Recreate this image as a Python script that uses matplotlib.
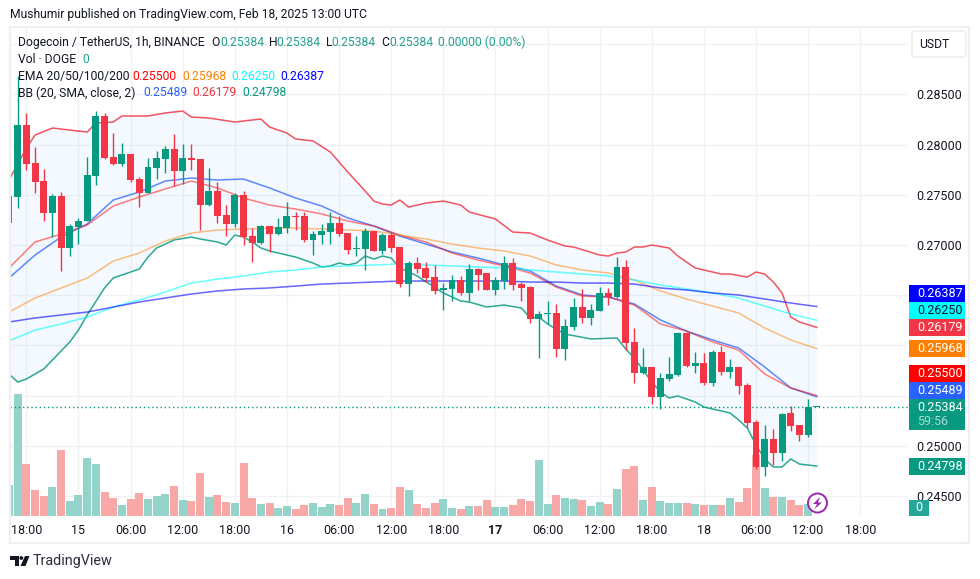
import numpy as np
import matplotlib
matplotlib.use("Agg")
import matplotlib.pyplot as plt
from matplotlib.patches import Rectangle, FancyBboxPatch, Circle, Polygon

plt.rcParams['font.family'] = ['Roboto', 'DejaVu Sans']

opens = [27219, 27478, 28195, 27817, 27637, 27319, 27488, 26970, 27179, 27239, 27687, 28285, 27876, 27807, 27906, 27657,
         27518, 27767, 27856, 27956, 27737, 27866, 27856, 27398, 27538, 27299, 27209, 27498, 27089, 27020, 27189, 27109,
         27169, 27289, 27289, 27050, 27099, 27129, 27219, 27119, 26960, 26960, 27139, 26940, 27099, 26980, 26611, 26820,
         26771, 26681, 26552, 26562, 26651, 26522, 26761, 26721, 26552, 26641, 26820, 26611, 26581, 26263, 26313, 26323,
         25964, 26183, 26382, 26273, 26342, 26522, 26482, 26781, 26034, 25725, 25785, 25486, 25665, 25705, 26123, 25795,
         25824, 25625, 25934, 25735, 25785, 25605, 25237, 24789, 25068, 24928, 25327, 25207, 25107, 25384]
highs = [27488, 28683, 28315, 27976, 27757, 27508, 27528, 27209, 27269, 27876, 28334, 28315, 28115, 28016, 27906, 27677,
         27866, 27936, 27986, 28105, 28006, 28006, 27856, 27767, 27627, 27398, 27518, 27538, 27169, 27199, 27189, 27269,
         27428, 27328, 27328, 27139, 27209, 27328, 27289, 27119, 27089, 27169, 27139, 27119, 27119, 26980, 26840, 26880,
         26830, 26801, 26621, 26701, 26691, 26810, 26771, 26721, 26681, 26890, 26870, 26631, 26591, 26342, 26442, 26412,
         26263, 26472, 26562, 26412, 26581, 26572, 26880, 26850, 26173, 25974, 25785, 25725, 25884, 26133, 26133, 25934,
         25924, 25954, 25994, 25864, 25785, 25625, 25257, 25207, 25167, 25327, 25396, 25207, 25466, 25384]
lows = [27219, 27368, 27747, 27518, 27239, 27079, 26741, 26890, 27010, 27239, 27597, 27856, 27797, 27787, 27627, 27378,
        27518, 27657, 27717, 27587, 27607, 27747, 27149, 27388, 27219, 27089, 27179, 27000, 26830, 27010, 26930, 27099,
        27119, 27149, 27030, 26900, 27010, 27010, 27089, 26910, 26890, 26751, 26940, 26910, 26930, 26581, 26492, 26721,
        26631, 26512, 26352, 26442, 26502, 26442, 26552, 26552, 26502, 26562, 26552, 26442, 26223, 25874, 26213, 25884,
        25854, 26153, 26223, 26203, 26342, 26402, 26472, 25954, 25625, 25715, 25416, 25366, 25645, 25695, 25785, 25725,
        25605, 25595, 25705, 25675, 25516, 25177, 24769, 24699, 24809, 24848, 25147, 25048, 25087, 25384]
closes = [27488, 28195, 27807, 27627, 27319, 27488, 26970, 27189, 27239, 27697, 28285, 27866, 27807, 27906, 27647, 27518,
          27777, 27866, 27956, 27737, 27866, 27846, 27398, 27538, 27289, 27209, 27498, 27079, 27020, 27189, 27109, 27179,
          27289, 27279, 27050, 27109, 27139, 27219, 27109, 26950, 26970, 27139, 26940, 27099, 26970, 26611, 26820, 26761,
          26671, 26542, 26572, 26651, 26522, 26761, 26701, 26552, 26651, 26820, 26601, 26572, 26263, 26313, 26323, 25964,
          26193, 26382, 26273, 26352, 26522, 26482, 26781, 26024, 25725, 25785, 25486, 25675, 25715, 26123, 25795, 25824,
          25625, 25934, 25735, 25785, 25595, 25227, 24789, 25068, 24928, 25317, 25197, 25107, 25384, 25384]

# Volume bars, in arbitrary units (the chart has no volume scale)
volumes = [31, 122, 52, 26, 20, 29, 66, 15, 21, 58, 52, 24, 18, 11, 17, 23, 17, 20, 22, 30, 16, 15, 43, 19,
           21, 14, 13, 53, 18, 12, 13, 8, 10, 7, 11, 13, 9, 12, 11, 18, 13, 22, 12, 7, 8, 29, 26, 12,
           8, 13, 17, 8, 7, 10, 10, 16, 9, 9, 11, 17, 15, 56, 12, 21, 18, 17, 16, 10, 14, 12, 27, 47,
           50, 16, 29, 15, 13, 13, 13, 12, 11, 11, 11, 18, 14, 28, 61, 28, 19, 19, 16, 11, 12, 0]

# Bollinger upper and lower read at the bars where the line bends
upper_bars = [0, 2, 3, 5, 7, 9, 10, 12, 13, 16, 18, 20, 21, 23, 26, 29, 30, 32, 33, 35, 37, 39, 41, 42, 43, 44, 45, 46,
              48, 50, 52, 53, 56, 58, 60, 62, 64, 65, 68, 69, 70, 71, 72, 73, 74, 76, 77, 79, 80, 82, 83, 85, 86, 87,
              88, 89, 90, 91, 93]
bb_upper = [27647, 27966, 28095, 28165, 28145, 28125, 28215, 28225, 28285, 28285, 28315, 28334, 28275, 28265, 28225,
            28255, 28175, 28115, 28056, 28036, 27926, 27727, 27538, 27438, 27408, 27398, 27448, 27378, 27418, 27438,
            27398, 27328, 27259, 27129, 27119, 27050, 26990, 26980, 26900, 26890, 26920, 26930, 26980, 26980, 27000,
            26970, 26890, 26771, 26751, 26711, 26711, 26681, 26731, 26711, 26631, 26522, 26283, 26233, 26179]
lower_bars = [0, 1, 2, 4, 6, 7, 8, 9, 11, 12, 15, 16, 17, 19, 21, 22, 24, 25, 26, 27, 28, 29, 30, 32, 33, 35, 36, 37,
              38, 39, 40, 41, 42, 43, 44, 45, 47, 50, 52, 53, 55, 57, 59, 60, 61, 62, 64, 67, 70, 71, 72, 74, 75, 76,
              77, 79, 80, 83, 84, 85, 86, 87, 88, 89, 90, 91, 93]
bb_lower = [25715, 25635, 25665, 25765, 25944, 26034, 26153, 26303, 26572, 26671, 26761, 26880, 26970, 27050, 27079,
            27060, 27030, 27000, 27099, 27079, 27030, 26970, 26940, 26900, 26880, 26820, 26781, 26791, 26820, 26801,
            26820, 26890, 26860, 26890, 26870, 26771, 26691, 26522, 26442, 26432, 26382, 26402, 26372, 26273, 26283,
            26213, 26113, 26064, 26074, 25964, 25874, 25635, 25536, 25476, 25496, 25436, 25386, 25327, 25257, 25177,
            25008, 24868, 24789, 24789, 24868, 24818, 24798]

# Other indicator values read every third bar
bb_mid = [26671, 26900, 27079, 27209, 27448, 27528, 27637, 27667, 27647, 27657, 27568, 27468, 27388, 27269, 27189, 27089,
          27010, 26930, 26870, 26801, 26741, 26591, 26502, 26482, 26412, 26253, 26143, 26054, 25974, 25785, 25576, 25489]
ema20 = [26771, 27030, 27109, 27199, 27388, 27478, 27558, 27637, 27568, 27468, 27398, 27358, 27309, 27239, 27189, 27099,
         27030, 26920, 26850, 26791, 26721, 26581, 26492, 26482, 26402, 26213, 26143, 26034, 25954, 25715, 25576, 25500]
ema50 = [26332, 26472, 26572, 26671, 26840, 26920, 27040, 27119, 27149, 27159, 27169, 27169, 27159, 27149, 27139, 27099,
         27060, 27010, 26970, 26940, 26890, 26801, 26751, 26721, 26651, 26542, 26462, 26392, 26323, 26173, 26054, 25968]
ema100 = [26044, 26153, 26213, 26283, 26382, 26452, 26532, 26621, 26661, 26691, 26731, 26751, 26781, 26791, 26801, 26811,
          26801, 26791, 26781, 26771, 26751, 26731, 26711, 26691, 26651, 26601, 26562, 26522, 26472, 26392, 26313, 26250]
ema200 = [26233, 26273, 26303, 26332, 26382, 26432, 26472, 26512, 26542, 26562, 26572, 26591, 26611, 26621, 26631, 26641,
          26641, 26641, 26641, 26641, 26631, 26631, 26621, 26621, 26611, 26572, 26552, 26522, 26502, 26462, 26422, 26387]

price_ticks = [0.245, 0.25, 0.255, 0.26, 0.265, 0.27, 0.275, 0.28, 0.285, 0.29]
hidden_tick_labels = [0.255, 0.26, 0.265, 0.29]  # sit behind the badges / USDT button
time_tick_bars = list(range(2, 99, 6))
time_tick_labels = ["18:00", "15", "06:00", "12:00", "18:00", "16", "06:00", "12:00", "18:00",
                    "17", "06:00", "12:00", "18:00", "18", "06:00", "12:00", "18:00"]

# Price badges on the right: text, fill colour, text colour, centre y in pixels
badge_texts = ["0.26387", "0.26250", "0.26179", "0.25968", "0.25500", "0.25489", "0.24798"]
badge_colors = ["#0000ff", "#00ffff", "#f23645", "#ff8000", "#ff0000", "#2962ff", "#089981"]
badge_text_colors = ["white", "#131722", "white", "white", "white", "white", "white"]
badge_y = [293.3, 310.7, 327.5, 348.3, 373.3, 390.7, 466.3]

GREEN = "#089981"
RED = "#f23645"
W, H = 980, 579
# plot area in pixels
LEFT, RIGHT, TOP, BOTTOM = 10, 908, 27, 516
BAR_PX = 8.686
PRICE_PER_PX = 0.0000996

fig = plt.figure(figsize=(W / 100, H / 100), dpi=100, facecolor="white")
ax = fig.add_axes([LEFT / W, 1 - BOTTOM / H, (RIGHT - LEFT) / W, (BOTTOM - TOP) / H])

ax.set_xlim((LEFT - 9.0) / BAR_PX, (RIGHT - 9.0) / BAR_PX)
ymin = 0.245 - (BOTTOM - 496) * PRICE_PER_PX
ymax = 0.245 + (496 - TOP) * PRICE_PER_PX
ax.set_ylim(ymin, ymax)

bars = np.arange(len(closes))
o = np.array(opens) / 1e5
h = np.array(highs) / 1e5
l = np.array(lows) / 1e5
c = np.array(closes) / 1e5
colors = [GREEN if cl >= op else RED for op, cl in zip(o, c)]
vol_colors = ["#93d3ca" if x == GREEN else "#f8a9a7" for x in colors]

# Grid
ax.set_yticks(price_ticks)
ax.set_yticklabels(["" if p in hidden_tick_labels else f"{p:.5f}" for p in price_ticks])
ax.set_xticks(time_tick_bars)
ax.set_xticklabels(time_tick_labels)
ax.grid(True, color="#f0f2f5", linewidth=1)
ax.set_axisbelow(True)
ax.yaxis.tick_right()
ax.tick_params(axis="both", length=0, labelsize=9, labelcolor="#131722")
ax.tick_params(axis="y", pad=6)
ax.tick_params(axis="x", pad=6)
ax.get_xticklabels()[9].set_fontweight("bold")
for s in ax.spines.values():
    s.set_visible(False)

# Volume at the bottom of the pane, one unit = one pixel
ax.bar(bars, np.array(volumes) * PRICE_PER_PX, bottom=ymin, width=0.92, color=vol_colors, linewidth=0, zorder=1.5)

# Bollinger band
ub = np.array(bb_upper) / 1e5
lb = np.array(bb_lower) / 1e5
ax.fill(np.r_[upper_bars, lower_bars[::-1]], np.r_[ub, lb[::-1]], color="#2196f3", alpha=0.05, linewidth=0, zorder=1.6)
ind_bars = np.arange(0, 94, 3)
ax.plot(upper_bars, ub, color=RED, lw=1.1, alpha=0.85, zorder=2)
ax.plot(ind_bars, np.array(bb_mid) / 1e5, color="#2962ff", lw=1.1, alpha=0.75, zorder=2)
ax.plot(lower_bars, lb, color=GREEN, lw=1.1, alpha=0.85, zorder=2)

# EMAs
ax.plot(ind_bars, np.array(ema20) / 1e5, color="#ff0000", lw=1.1, alpha=0.5, zorder=2)
ax.plot(ind_bars, np.array(ema50) / 1e5, color="#ff8000", lw=1.1, alpha=0.5, zorder=2)
ax.plot(ind_bars, np.array(ema100) / 1e5, color="#00ffff", lw=1.1, alpha=0.6, zorder=2)
ax.plot(ind_bars, np.array(ema200) / 1e5, color="#0000ff", lw=1.1, alpha=0.6, zorder=2)

# Candles
ax.vlines(bars, l, h, colors=colors, linewidth=1, zorder=3)
body_low = np.minimum(o, c)
body_height = np.maximum(np.abs(c - o), PRICE_PER_PX)
ax.bar(bars, body_height, bottom=body_low, width=0.8, color=colors, linewidth=0, zorder=3.1)

# Last price line
ax.axhline(c[-1], color=GREEN, lw=1, linestyle=(0, (1, 2)), zorder=2.5)

# Overlay in pixel coordinates for the frame, legend text and badges
ov = fig.add_axes([0, 0, 1, 1], facecolor="none")
ov.set_xlim(0, W)
ov.set_ylim(H, 0)
ov.axis("off")

ov.add_patch(Rectangle((9.5, 26.5), 959.5, 516.5, fill=False, edgecolor="#f0f0f0", linewidth=1.6))

TXT = "#131722"
FS = 8.7
ov.text(9.7, 14.8, "Mushumir published on TradingView.com, Feb 18, 2025 13:00 UTC", fontsize=FS, color=TXT, va="center")

ohlc_green = "#26a08f"
legend_rows = [
    (42.2, [(18, "Dogecoin / TetherUS, 1h, BINANCE", TXT), (211, "O", TXT), (220, "0.25384", ohlc_green),
            (269, "H", TXT), (276.5, "0.25384", ohlc_green), (326, "L", TXT), (331, "0.25384", ohlc_green),
            (381, "C", TXT), (389, "0.25384", ohlc_green), (438, "0.00000 (0.00%)", ohlc_green)]),
    (59.5, [(18, "Vol · DOGE", TXT), (82.7, "0", ohlc_green)]),
    (76.3, [(18, "EMA 20/50/100/200", TXT), (132.6, "0.25500", "#ff0000"), (182, "0.25968", "#ff8000"),
            (231.5, "0.26250", "#00ffff"), (280.7, "0.26387", "#0000ff")]),
    (93, [(18, "BB (20, SMA, close, 2)", TXT), (143, "0.25489", "#2962ff"), (192.3, "0.26179", RED),
          (242, "0.24798", GREEN)]),
]
for y, parts in legend_rows:
    for x, s, col in parts:
        ov.text(x, y, s, fontsize=FS, color=col, va="center")

# USDT button
ov.add_patch(FancyBboxPatch((914, 33), 50, 22, boxstyle="round,pad=2,rounding_size=4", facecolor="white",
                            edgecolor="#ececec", linewidth=1))
ov.text(934.5, 44.5, "USDT", fontsize=FS, color=TXT, va="center", ha="center")

# Price badges
for s, fc, tc, y in zip(badge_texts, badge_colors, badge_text_colors, badge_y):
    ov.add_patch(Rectangle((909, y - 8.4), 56, 16.8, facecolor=fc, edgecolor="none"))
    ov.text(917, y, s, fontsize=9, color=tc, va="center")

ov.add_patch(Rectangle((909, 399.3), 56, 30.7, facecolor=GREEN, edgecolor="none"))
ov.text(917, 407.5, "0.25384", fontsize=9, color="white", va="center")
ov.text(917, 421.5, "59:56", fontsize=9, color="#a8dcd2", va="center")
ov.add_patch(Rectangle((909, 499.5), 20, 16, facecolor="#26a69a", edgecolor="none"))
ov.text(919, 507.7, "0", fontsize=9, color="white", va="center", ha="center")

# Lightning badge
ov.add_patch(Circle((817.5, 503), 9.5, facecolor="white", edgecolor="#9c27b0", linewidth=1.4, zorder=5))
ov.add_patch(Polygon([(820, 497), (813, 504), (817, 504), (814.5, 509), (822, 502.5), (818, 502.5)],
                     facecolor="#9c27b0", edgecolor="none", zorder=6))

# TradingView logo
ov.add_patch(Polygon([(10, 556), (19, 556), (19, 566), (14.5, 566), (14.5, 560), (10, 560)], facecolor="#131722", edgecolor="none"))
ov.add_patch(Circle((21.3, 558), 1.9, facecolor="#131722", edgecolor="none"))
ov.add_patch(Polygon([(25, 556), (29.5, 556), (25.5, 566), (20.5, 566)], facecolor="#131722", edgecolor="none"))
ov.text(33, 561.5, "TradingView", fontsize=10.4, color="#2a2e39", va="center")

fig.savefig("out.png", dpi=100, facecolor="white")
